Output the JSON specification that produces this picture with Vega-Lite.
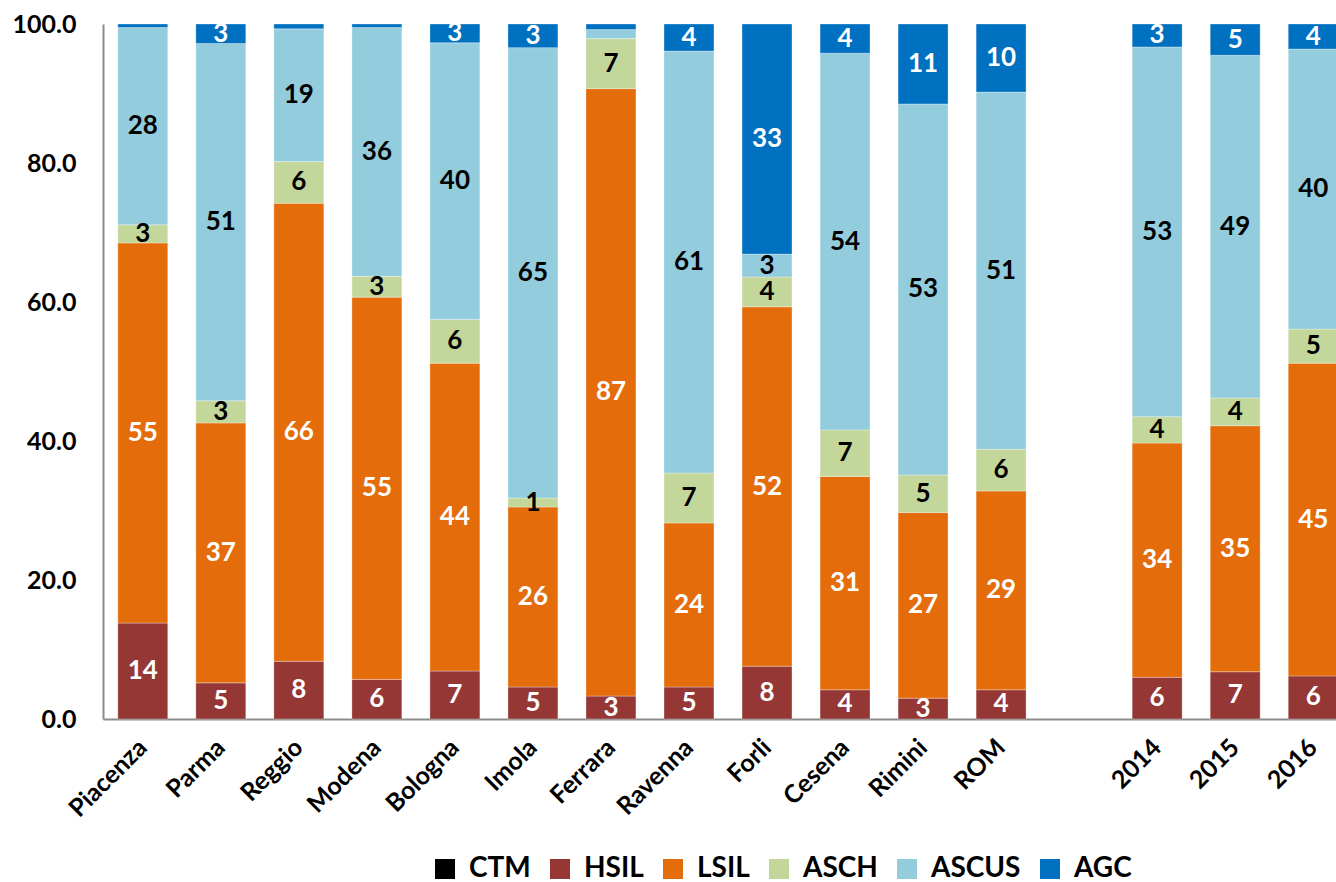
{
  "$schema": "https://vega.github.io/schema/vega-lite/v6.json",
  "width": 1250,
  "height": 695,
  "autosize": {"type": "none"},
  "padding": {"left": 103, "top": 24, "right": 0, "bottom": 163},
  "background": "white",
  "config": {"view": {"stroke": null}, "font": "Lato"},
  "data": {"values": [
    {"site":"Piacenza","cat":"HSIL","v":13.8,"lab":"14"},
    {"site":"Piacenza","cat":"LSIL","v":54.7,"lab":"55"},
    {"site":"Piacenza","cat":"ASCH","v":2.6,"lab":"3"},
    {"site":"Piacenza","cat":"ASCUS","v":28.4,"lab":"28"},
    {"site":"Piacenza","cat":"AGC","v":0.5,"lab":""},
    {"site":"Parma","cat":"HSIL","v":5.2,"lab":"5"},
    {"site":"Parma","cat":"LSIL","v":37.4,"lab":"37"},
    {"site":"Parma","cat":"ASCH","v":3.2,"lab":"3"},
    {"site":"Parma","cat":"ASCUS","v":51.4,"lab":"51"},
    {"site":"Parma","cat":"AGC","v":2.8,"lab":"3"},
    {"site":"Reggio","cat":"HSIL","v":8.3,"lab":"8"},
    {"site":"Reggio","cat":"LSIL","v":65.9,"lab":"66"},
    {"site":"Reggio","cat":"ASCH","v":6.0,"lab":"6"},
    {"site":"Reggio","cat":"ASCUS","v":19.1,"lab":"19"},
    {"site":"Reggio","cat":"AGC","v":0.7,"lab":""},
    {"site":"Modena","cat":"HSIL","v":5.7,"lab":"6"},
    {"site":"Modena","cat":"LSIL","v":55.0,"lab":"55"},
    {"site":"Modena","cat":"ASCH","v":3.0,"lab":"3"},
    {"site":"Modena","cat":"ASCUS","v":35.8,"lab":"36"},
    {"site":"Modena","cat":"AGC","v":0.5,"lab":""},
    {"site":"Bologna","cat":"HSIL","v":6.9,"lab":"7"},
    {"site":"Bologna","cat":"LSIL","v":44.3,"lab":"44"},
    {"site":"Bologna","cat":"ASCH","v":6.3,"lab":"6"},
    {"site":"Bologna","cat":"ASCUS","v":39.8,"lab":"40"},
    {"site":"Bologna","cat":"AGC","v":2.7,"lab":"3"},
    {"site":"Imola","cat":"HSIL","v":4.6,"lab":"5"},
    {"site":"Imola","cat":"LSIL","v":25.9,"lab":"26"},
    {"site":"Imola","cat":"ASCH","v":1.3,"lab":"1"},
    {"site":"Imola","cat":"ASCUS","v":64.8,"lab":"65"},
    {"site":"Imola","cat":"AGC","v":3.4,"lab":"3"},
    {"site":"Ferrara","cat":"HSIL","v":3.3,"lab":"3"},
    {"site":"Ferrara","cat":"LSIL","v":87.4,"lab":"87"},
    {"site":"Ferrara","cat":"ASCH","v":7.2,"lab":"7"},
    {"site":"Ferrara","cat":"ASCUS","v":1.3,"lab":""},
    {"site":"Ferrara","cat":"AGC","v":0.8,"lab":""},
    {"site":"Ravenna","cat":"HSIL","v":4.6,"lab":"5"},
    {"site":"Ravenna","cat":"LSIL","v":23.6,"lab":"24"},
    {"site":"Ravenna","cat":"ASCH","v":7.2,"lab":"7"},
    {"site":"Ravenna","cat":"ASCUS","v":60.7,"lab":"61"},
    {"site":"Ravenna","cat":"AGC","v":3.9,"lab":"4"},
    {"site":"Forli","cat":"HSIL","v":7.6,"lab":"8"},
    {"site":"Forli","cat":"LSIL","v":51.7,"lab":"52"},
    {"site":"Forli","cat":"ASCH","v":4.3,"lab":"4"},
    {"site":"Forli","cat":"ASCUS","v":3.3,"lab":"3"},
    {"site":"Forli","cat":"AGC","v":33.1,"lab":"33"},
    {"site":"Cesena","cat":"HSIL","v":4.2,"lab":"4"},
    {"site":"Cesena","cat":"LSIL","v":30.7,"lab":"31"},
    {"site":"Cesena","cat":"ASCH","v":6.7,"lab":"7"},
    {"site":"Cesena","cat":"ASCUS","v":54.2,"lab":"54"},
    {"site":"Cesena","cat":"AGC","v":4.2,"lab":"4"},
    {"site":"Rimini","cat":"HSIL","v":3.0,"lab":"3"},
    {"site":"Rimini","cat":"LSIL","v":26.7,"lab":"27"},
    {"site":"Rimini","cat":"ASCH","v":5.4,"lab":"5"},
    {"site":"Rimini","cat":"ASCUS","v":53.4,"lab":"53"},
    {"site":"Rimini","cat":"AGC","v":11.5,"lab":"11"},
    {"site":"ROM","cat":"HSIL","v":4.2,"lab":"4"},
    {"site":"ROM","cat":"LSIL","v":28.6,"lab":"29"},
    {"site":"ROM","cat":"ASCH","v":6.0,"lab":"6"},
    {"site":"ROM","cat":"ASCUS","v":51.4,"lab":"51"},
    {"site":"ROM","cat":"AGC","v":9.8,"lab":"10"},
    {"site":"2014","cat":"HSIL","v":6.0,"lab":"6"},
    {"site":"2014","cat":"LSIL","v":33.7,"lab":"34"},
    {"site":"2014","cat":"ASCH","v":3.8,"lab":"4"},
    {"site":"2014","cat":"ASCUS","v":53.2,"lab":"53"},
    {"site":"2014","cat":"AGC","v":3.3,"lab":"3"},
    {"site":"2015","cat":"HSIL","v":6.8,"lab":"7"},
    {"site":"2015","cat":"LSIL","v":35.4,"lab":"35"},
    {"site":"2015","cat":"ASCH","v":4.0,"lab":"4"},
    {"site":"2015","cat":"ASCUS","v":49.3,"lab":"49"},
    {"site":"2015","cat":"AGC","v":4.5,"lab":"5"},
    {"site":"2016","cat":"HSIL","v":6.2,"lab":"6"},
    {"site":"2016","cat":"LSIL","v":45.0,"lab":"45"},
    {"site":"2016","cat":"ASCH","v":4.9,"lab":"5"},
    {"site":"2016","cat":"ASCUS","v":40.3,"lab":"40"},
    {"site":"2016","cat":"AGC","v":3.6,"lab":"4"}
  ]},
  "transform": [
    {"calculate": "indexof(['CTM','HSIL','LSIL','ASCH','ASCUS','AGC'], datum.cat)", "as": "k"},
    {"stack": "v", "groupby": ["site"], "sort": [{"field": "k", "order": "ascending"}], "as": ["v0", "v1"]},
    {"calculate": "(datum.v0 + datum.v1) / 2", "as": "vm"}
  ],
  "encoding": {
    "x": {
      "field": "site", "type": "nominal",
      "scale": {"domain": ["Piacenza","Parma","Reggio","Modena","Bologna","Imola","Ferrara","Ravenna","Forli","Cesena","Rimini","ROM"," ","2014","2015","2016"], "paddingInner": 0.36, "paddingOuter": 0.19},
      "axis": {"title": null, "labelAngle": -45, "labelAlign": "right", "labelBaseline": "middle", "labelFontSize": 25, "labelFontWeight": "bold", "labelColor": "black", "labelPadding": 24, "ticks": false, "domainColor": "#8c8c8c", "domainWidth": 2}
    }
  },
  "layer": [
    {
      "mark": {"type": "bar", "stroke": "white", "strokeWidth": 0.5, "strokeOpacity": 0.6},
      "encoding": {
        "y": {"field": "v0", "type": "quantitative", "scale": {"domain": [0, 100], "nice": false},
          "axis": {"title": null, "values": [0,20,40,60,80,100], "format": ".1f", "grid": false, "ticks": false, "labelFontSize": 25, "labelFontWeight": "bold", "labelColor": "black", "labelPadding": 27, "domainColor": "#8c8c8c", "domainWidth": 2}},
        "y2": {"field": "v1"},
        "color": {"field": "cat", "type": "nominal",
          "scale": {"domain": ["CTM","HSIL","LSIL","ASCH","ASCUS","AGC"], "range": ["#000000","#953735","#E46C0A","#C4D79B","#93CDDD","#0070C0"]},
          "legend": {"title": null, "orient": "none", "legendX": 328, "legendY": 831, "direction": "horizontal", "symbolType": "square", "symbolSize": 400, "symbolStrokeWidth": 0, "labelFontSize": 28, "labelFontWeight": "bold", "labelColor": "black", "labelOffset": 10, "columnPadding": 15, "labelLimit": 300}}
      }
    },
    {
      "transform": [{"filter": "datum.lab !== ''"}],
      "mark": {"type": "text", "fontSize": 26, "fontWeight": "bold", "baseline": "middle", "align": "center"},
      "encoding": {
        "y": {"field": "vm", "type": "quantitative"},
        "text": {"field": "lab"},
        "color": {"condition": {"test": "datum.cat === 'ASCH' || datum.cat === 'ASCUS'", "value": "black"}, "value": "white"}
      }
    }
  ]
}
